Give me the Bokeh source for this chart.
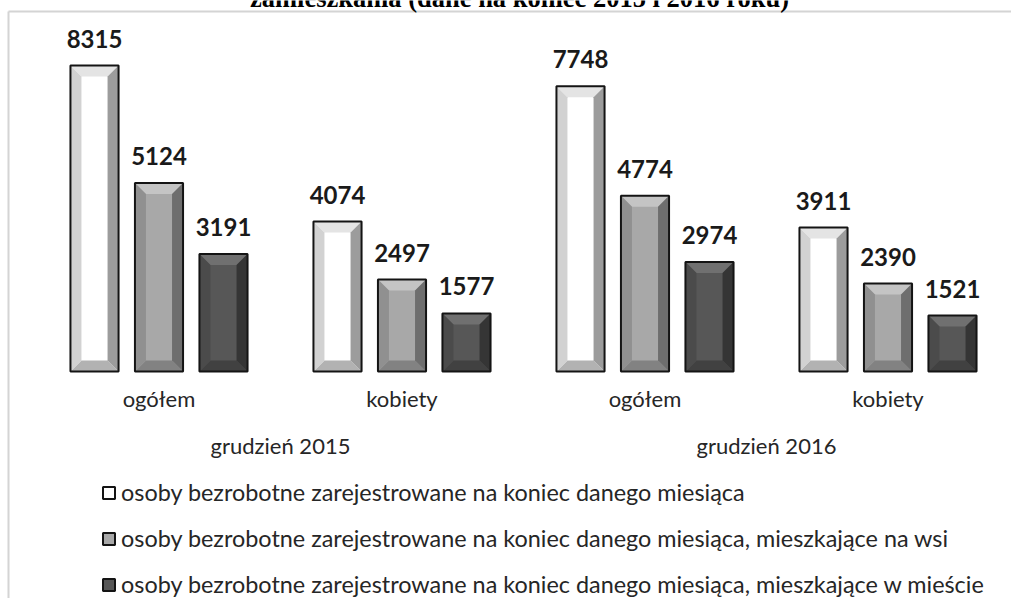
from bokeh.plotting import figure
from bokeh.models import Range1d, Legend, LegendItem
from bokeh.core.properties import value
from bokeh.embed import file_html
from bokeh.resources import INLINE

# ---------------- data ----------------
title_text = "zamieszkania (dane na koniec 2015 i 2016 roku)"
periods = ["grudzień 2015", "grudzień 2016"]
groups = ["ogółem", "kobiety", "ogółem", "kobiety"]
series_names = [
    "osoby bezrobotne zarejestrowane na koniec danego miesiąca",
    "osoby bezrobotne zarejestrowane na koniec danego miesiąca, mieszkające na wsi",
    "osoby bezrobotne zarejestrowane na koniec danego miesiąca, mieszkające w mieście",
]
total = [8315, 4074, 7748, 3911]
rural = [5124, 2497, 4774, 2390]
urban = [3191, 1577, 2974, 1521]
series_values = [total, rural, urban]

# ---------------- layout constants ----------------
W, H = 1011, 598
PX_X = 243.0       # pixels per category
X0_PX = 158.5      # pixel of first category centre
BASE_PX = 371.0    # pixel of value 0
PX_Y = 0.0368      # pixels per unit


def sx(px):
    return (px - X0_PX) / PX_X


def sy(py):
    return (BASE_PX - py) / PX_Y


p = figure(width=W, height=H,
           x_range=Range1d(sx(0), sx(W)), y_range=Range1d(sy(H), sy(0)),
           x_axis_type=None, y_axis_type=None,
           output_backend="svg", toolbar_location=None, min_border=0)
p.grid.visible = False
p.outline_line_color = None
p.background_fill_color = "white"
p.border_fill_color = "white"

# chart border (light gray, only left & top visible in the crop)
p.segment(x0=[sx(8), sx(8)], y0=[sy(11), sy(11)],
          x1=[sx(1040), sx(8)], y1=[sy(11), sy(640)],
          line_color="#d4d4d4", line_width=2)

# title (clipped at the top as in the reference)
p.text(x=[sx(519)], y=[sy(-3)], text=[title_text], text_align="center",
       text_baseline="middle", text_font=value("Liberation Serif"),
       text_font_style="bold", text_font_size="26.5px", text_color="black")

offsets = [-0.2654, 0.0, 0.2654]
bar_w = 0.198
bdx = 11.0 / PX_X
bdy = 11.0 / PX_Y

palettes = [
    dict(center="#ffffff", left="#d2d2d2", right="#9c9c9c", top="#e4e4e4", bottom="#b2b2b2"),
    dict(center="#a8a8a8", left="#909090", right="#6e6e6e", top="#c4c4c4", bottom="#828282"),
    dict(center="#575757", left="#4b4b4b", right="#353535", top="#707070", bottom="#414141"),
]

legend_items = []
for si, (vals, pal, name) in enumerate(zip(series_values, palettes, series_names)):
    xs = [k + offsets[si] for k in range(len(vals))]
    body = p.vbar(x=xs, top=vals, bottom=0, width=bar_w,
                  fill_color=pal["center"], line_color=None)
    pxs, pys, pcs = [], [], []
    for c, v in zip(xs, vals):
        x0, x1 = c - bar_w / 2, c + bar_w / 2
        pxs += [[x0, x1, x1 - bdx, x0 + bdx],
                [x0, x1, x1 - bdx, x0 + bdx],
                [x0, x0, x0 + bdx, x0 + bdx],
                [x1, x1, x1 - bdx, x1 - bdx]]
        pys += [[v, v, v - bdy, v - bdy],
                [0, 0, bdy, bdy],
                [0, v, v - bdy, bdy],
                [0, v, v - bdy, bdy]]
        pcs += [pal["top"], pal["bottom"], pal["left"], pal["right"]]
    p.patches(xs=pxs, ys=pys, fill_color=pcs, line_color=None)
    outline = p.vbar(x=xs, top=vals, bottom=0, width=bar_w,
                     fill_color=None, line_color="#141414", line_width=2)
    p.text(x=xs, y=vals, text=[str(v) for v in vals], y_offset=-27,
           text_align="center", text_baseline="middle",
           text_font=value("Lato"), text_font_style="bold",
           text_font_size="24px", text_color="#1a1a1a")
    legend_items.append(LegendItem(label=name, renderers=[body, outline]))

# category labels
p.text(x=list(range(len(groups))), y=[0] * len(groups), text=groups,
       y_offset=27, text_align="center", text_baseline="middle",
       text_font=value("Lato"), text_font_size="22px", text_color="#262626")
# period labels
p.text(x=[0.5 + 2 * i for i in range(len(periods))], y=[0] * len(periods),
       text=periods, y_offset=74, text_align="center", text_baseline="middle",
       text_font=value("Lato"), text_font_size="22px", text_color="#262626")

legend = Legend(items=legend_items, location=(101, 0), orientation="vertical",
                padding=0, margin=0, spacing=18, label_standoff=5,
                glyph_width=15, glyph_height=15,
                border_line_color=None, background_fill_alpha=0,
                label_text_font="Lato", label_text_font_size="23.4px",
                label_text_color="#262626")
p.add_layout(legend, "center")

open("out.html", "w").write(file_html(p, INLINE))
